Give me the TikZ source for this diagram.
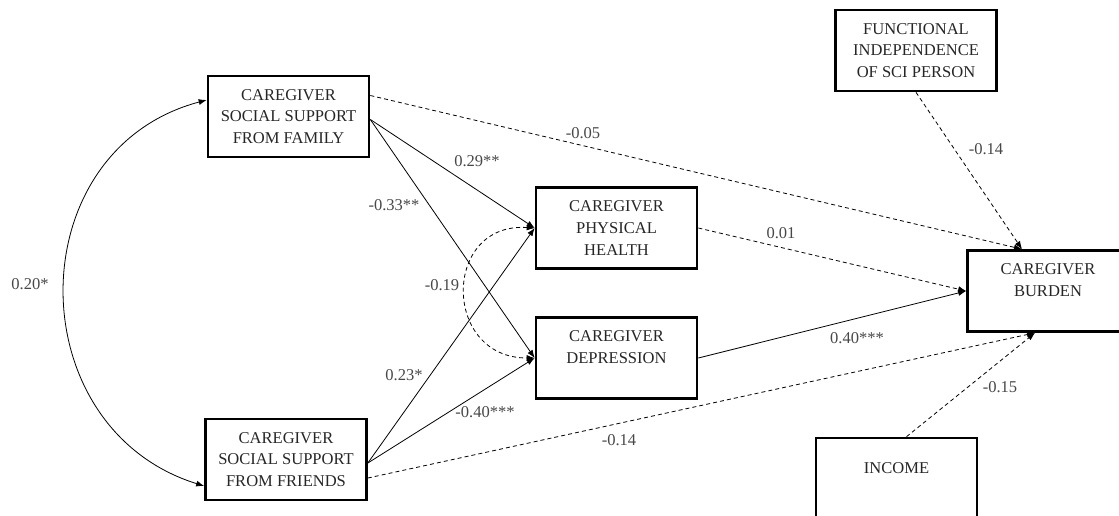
\documentclass[tikz,border=0pt]{standalone}
\usepackage{fontspec}
\setmainfont{Liberation Serif}
\usetikzlibrary{arrows.meta,calc}

\begin{document}
\begin{tikzpicture}[x=0.75pt,y=0.75pt,yscale=-1,xscale=1,
  varbox/.style={draw,line width=2pt,minimum width=120.75pt,minimum height=60.75pt,inner sep=0pt,align=center,text=black!85,font=\fontsize{12.4}{16.3}\selectfont},
  sig/.style={line width=0.6pt,-{Latex[length=6pt,width=4.5pt]}},
  nsig/.style={sig,dash pattern={on 3pt off 2.3pt}},
  cov/.style={line width=0.6pt,{Latex[length=6pt,width=4.5pt]}-{Latex[length=6pt,width=4.5pt]}},
  coef/.style={inner sep=0pt,text=black!72,font=\fontsize{12.4}{14}\selectfont}]
\useasboundingbox (0,0) rectangle (1119,515);
\clip (0,0) rectangle (1119,515);

%Shape: Rectangle [id:fam]
\node[varbox] (fam) at (288.5,116.5) {CAREGIVER\\SOCIAL SUPPORT\\FROM FAMILY};
%Shape: Rectangle [id:fri]
\node[varbox] (fri) at (286,459.5) {CAREGIVER\\SOCIAL SUPPORT\\FROM FRIENDS};
%Shape: Rectangle [id:phys]
\node[varbox] (phys) at (616.5,228) {CAREGIVER\\PHYSICAL\\HEALTH};
%Shape: Rectangle [id:dep]
\node[varbox] (dep) at (616.5,358) {CAREGIVER\\DEPRESSION\\\mbox{}};
%Shape: Rectangle [id:func]
\node[varbox] (func) at (916,50.5) {FUNCTIONAL\\INDEPENDENCE\\OF SCI PERSON};
%Shape: Rectangle [id:burden]
\node[varbox] (burden) at (1048,291) {CAREGIVER\\BURDEN\\\mbox{}};
%Shape: Rectangle [id:inc]
\node[varbox] (inc) at (896.5,478.5) {INCOME\\\mbox{}};

\coordinate (bN) at ($(burden.north)+(-26,0)$);
\coordinate (bS) at ($(burden.south)+(-13,0)$);

%Straight Lines
\draw[sig] ($(fam.east)+(0,3)$) -- (phys.west);
\draw[sig] ($(fam.east)+(0,3)$) -- (dep.west);
\draw[nsig] ($(fam.east)+(0,-21)$) -- (bN);
%Straight Lines
\draw[sig] ($(fri.east)+(0,3.5)$) -- (phys.west);
\draw[sig] ($(fri.east)+(0,3.5)$) -- (dep.west);
\draw[nsig] ($(fri.east)+(0,18.5)$) -- (bS);
%Straight Lines
\draw[nsig] (phys.east) -- (burden.west);
\draw[sig] (dep.east) -- (burden.west);
\draw[nsig] (func.south) -- (bN);
\draw[nsig] ($(inc.north)+(10,0)$) -- (bS);

%Curve Lines
\draw[cov] ($(fam.west)+(0,-16.5)$) .. controls (18,150) and (18,428) .. ($(fri.west)+(0,26.5)$);
%Curve Lines
\draw[cov,dash pattern={on 3pt off 2.3pt}] (phys.west) .. controls (442,222) and (442,358) .. (dep.west);

% coefficients
\node[coef] (c20) at (30,284) {0.20*};
\node[coef] (c29) at (477,161) {0.29**};
\node[coef] (c05) at (583,133) {-0.05};
\node[coef] (c33) at (394,205) {-0.33**};
\node[coef] (c19) at (442,285) {-0.19};
\node[coef] (c23) at (404,375) {0.23*};
\node[coef] (c40n) at (485,412) {-0.40***};
\node[coef] (c14b) at (619,440) {-0.14};
\node[coef] (c01) at (781,233) {0.01};
\node[coef] (c14t) at (986,149) {-0.14};
\node[coef] (c40) at (857,338) {0.40***};
\node[coef] (c15) at (1000,387) {-0.15};

\end{tikzpicture}
\end{document}
